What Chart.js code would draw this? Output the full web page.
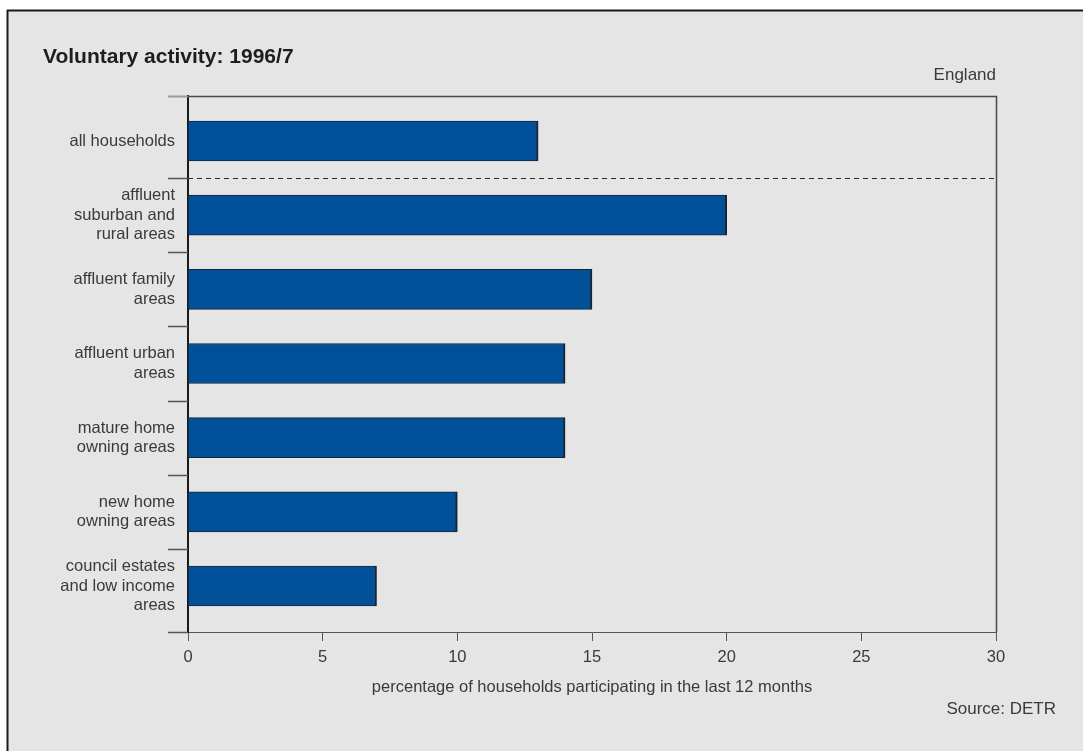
<!DOCTYPE html>
<html><head><meta charset="utf-8">
<script src="https://cdn.jsdelivr.net/npm/chart.js@4/dist/chart.umd.min.js"></script>
<style>html,body{margin:0;padding:0;background:#fff;} canvas{display:block;}</style>
</head><body>
<canvas id="c" width="1083" height="751"></canvas>
<script>
const categories = [
  ["all households"],
  ["affluent", "suburban and", "rural areas"],
  ["affluent family", "areas"],
  ["affluent urban", "areas"],
  ["mature home", "owning areas"],
  ["new home", "owning areas"],
  ["council estates", "and low income", "areas"]
];
const values = [13, 20, 15, 14, 14, 10, 7];
const xMin = 0, xMax = 30, xStep = 5;
const titleText = "Voluntary activity: 1996/7";
const regionText = "England";
const sourceText = "Source: DETR";
const xAxisTitle = "percentage of households participating in the last 12 months";

const FONT = "'Liberation Sans', Arial, sans-serif";
const TEXT = "#3a3a3a";

const decor = {
  id: 'decor',
  beforeDraw(chart) {
    const ctx = chart.ctx;
    ctx.save();
    ctx.fillStyle = '#ffffff';
    ctx.fillRect(0, 0, chart.width, chart.height);
    ctx.fillStyle = '#e5e5e5';
    ctx.fillRect(7, 10, chart.width - 7, chart.height - 10);
    ctx.strokeStyle = '#1a1a1a';
    ctx.lineWidth = 2;
    ctx.beginPath();
    ctx.moveTo(7, 10.5); ctx.lineTo(chart.width, 10.5);
    ctx.moveTo(7.5, 10); ctx.lineTo(7.5, chart.height);
    ctx.stroke();
    ctx.restore();
  },
  afterDraw(chart) {
    const ctx = chart.ctx;
    const a = chart.chartArea;
    const y = chart.scales.y;
    ctx.save();
    ctx.strokeStyle = '#4a4a4a';
    ctx.lineWidth = 1.5;
    ctx.beginPath();
    ctx.moveTo(a.left, a.top + 0.5); ctx.lineTo(a.right + 0.5, a.top + 0.5);
    ctx.lineTo(a.right + 0.5, a.bottom);
    ctx.stroke();
    ctx.strokeStyle = '#555';
    ctx.lineWidth = 1.5;
    ctx.beginPath();
    for (let i = 0; i < categories.length - 1; i++) {
      const py = Math.round(y.getPixelForValue(i + 0.5)) + 0.5;
      ctx.moveTo(a.left - 20, py); ctx.lineTo(a.left, py);
    }
    ctx.moveTo(a.left - 20, a.bottom + 0.5); ctx.lineTo(a.left, a.bottom + 0.5);
    ctx.stroke();
    ctx.strokeStyle = '#9a9a9a';
    ctx.lineWidth = 2;
    ctx.beginPath();
    ctx.moveTo(a.left - 20, a.top + 0.5); ctx.lineTo(a.left, a.top + 0.5);
    ctx.stroke();
    const dy = Math.round(y.getPixelForValue(0.5)) + 0.5;
    ctx.strokeStyle = '#2a2a2a';
    ctx.lineWidth = 1;
    ctx.setLineDash([5, 4]);
    ctx.beginPath();
    ctx.moveTo(a.left, dy); ctx.lineTo(a.right, dy);
    ctx.stroke();
    ctx.setLineDash([]);
    ctx.fillStyle = '#1e1e1e';
    ctx.font = "bold 21px " + FONT;
    ctx.textAlign = 'left';
    ctx.textBaseline = 'middle';
    ctx.fillText(titleText, 43, 57);
    ctx.fillStyle = TEXT;
    ctx.font = "17px " + FONT;
    ctx.textAlign = 'right';
    ctx.fillText(regionText, a.right, 75);
    ctx.fillText(sourceText, 1056, 709);
    ctx.restore();
  }
};

new Chart(document.getElementById('c'), {
  type: 'bar',
  data: {
    datasets: [{
      data: values.map((v, i) => ({ x: v, y: i })),
      backgroundColor: '#00509a',
      borderColor: '#1c2433',
      borderWidth: { top: 1, right: 2, bottom: 1, left: 0 },
      barThickness: 40
    }]
  },
  options: {
    indexAxis: 'y',
    responsive: false,
    animation: false,
    devicePixelRatio: 1,
    layout: { padding: { top: 96, right: 87, left: 0, bottom: 0 } },
    plugins: { legend: { display: false }, tooltip: { enabled: false }, title: { display: false } },
    scales: {
      x: {
        type: 'linear',
        min: xMin, max: xMax,
        ticks: { stepSize: xStep, color: TEXT, font: { family: FONT, size: 16.5 }, padding: 7 },
        grid: { drawOnChartArea: false, tickLength: 9, color: '#555', lineWidth: 1 },
        border: { display: true, color: '#555', width: 1 },
        title: { display: true, text: xAxisTitle, color: TEXT, font: { family: FONT, size: 16.5 }, padding: { top: 0, bottom: 54 } },
        afterFit(s) { s.height = 119; }
      },
      y: {
        type: 'linear',
        reverse: true,
        offset: false,
        bounds: 'data',
        min: -0.607, max: 6.62,
        afterBuildTicks(s) { s.ticks = categories.map((c, i) => ({ value: i })); },
        ticks: {
          color: TEXT,
          font: { family: FONT, size: 16.5, lineHeight: 1.17 },
          padding: 13,
          callback: (v) => categories[v]
        },
        grid: { display: false, drawTicks: false },
        border: { display: true, color: '#1a1a1a', width: 2 },
        afterFit(s) { s.width = 188; }
      }
    }
  },
  plugins: [decor]
});
</script>
</body></html>
